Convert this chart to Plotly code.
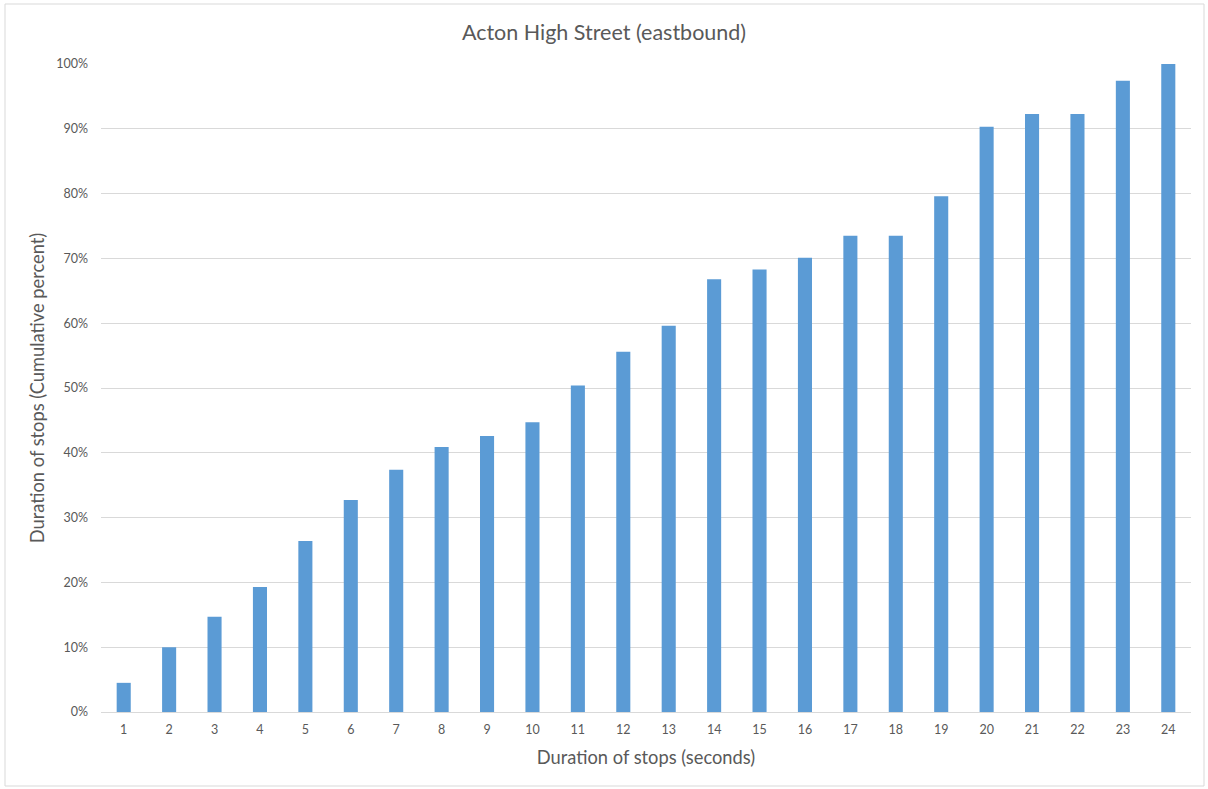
import plotly.graph_objects as go

durations = [str(i) for i in range(1, 25)]
cumulative_pct = [4.5, 10.0, 14.7, 19.3, 26.4, 32.7, 37.4, 40.9, 42.6, 44.7, 50.4, 55.6,
                  59.6, 66.8, 68.3, 70.1, 73.5, 73.5, 79.6, 90.3, 92.3, 92.3, 97.4, 100.0]
y_ticks = [0, 10, 20, 30, 40, 50, 60, 70, 80, 90, 100]
y_tick_labels = [f"{v}%" for v in y_ticks]

font_family = "Lato, Liberation Sans, Arial, sans-serif"
text_color = "#595959"

fig = go.Figure(go.Bar(
    x=durations,
    y=cumulative_pct,
    marker=dict(color="#5B9BD5", line=dict(width=0)),
    hoverinfo="x+y",
))

fig.update_layout(
    width=1208, height=789,
    margin=dict(l=101, r=17, t=64, b=77),
    paper_bgcolor="white", plot_bgcolor="white",
    bargap=0.69,
    showlegend=False,
    title=dict(text="Acton High Street (eastbound)", x=0.5, xanchor="center",
               y=1 - 32 / 789, yanchor="middle",
               font=dict(family=font_family, size=21.5, color=text_color)),
    font=dict(family=font_family, color=text_color),
    xaxis=dict(
        type="category",
        title=dict(text="Duration of stops (seconds)", standoff=15,
                   font=dict(family=font_family, size=18.3, color=text_color)),
        tickfont=dict(family=font_family, size=12.5, color=text_color),
        showgrid=False, showline=True, linecolor="#D9D9D9", linewidth=1,
        ticks="", ticklabelstandoff=6,
    ),
    yaxis=dict(
        range=[0, 100],
        tickvals=y_ticks, ticktext=y_tick_labels,
        title=dict(text="Duration of stops (Cumulative percent)", standoff=6,
                   font=dict(family=font_family, size=18.3, color=text_color)),
        tickfont=dict(family=font_family, size=12.5, color=text_color),
        showgrid=True, gridcolor="#D9D9D9", gridwidth=1,
        zeroline=False, showline=False, ticks="", ticklabelstandoff=12,
    ),
    shapes=[dict(type="rect", xref="paper", yref="paper",
                 x0=(5 - 101) / 1090, x1=(1204 - 101) / 1090,
                 y0=-(786 - 712) / 648, y1=1 + (64 - 4) / 648,
                 line=dict(color="#D9D9D9", width=1), fillcolor="rgba(0,0,0,0)",
                 layer="below")],
)

fig.write_html("out.html",
               config={"displayModeBar": False},
               post_script="document.body.style.margin='0';document.body.style.overflow='hidden';")
